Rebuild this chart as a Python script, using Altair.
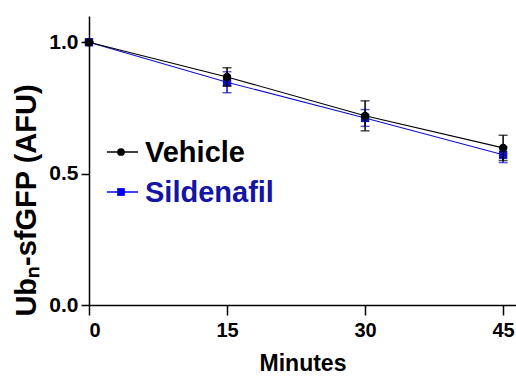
import altair as alt
import pandas as pd

minutes = [0, 15, 30, 45]
vehicle_mean = [1.0, 0.868, 0.720, 0.598]
vehicle_sem = [0.0, 0.035, 0.057, 0.048]
sildenafil_mean = [1.0, 0.848, 0.712, 0.572]
sildenafil_sem = [0.0, 0.040, 0.032, 0.030]
series_names = ["Vehicle", "Sildenafil"]
x_ticks = [0, 15, 30, 45]
y_ticks = [0.0, 0.5, 1.0]

rows = []
for name, means, sems in [("Vehicle", vehicle_mean, vehicle_sem),
                          ("Sildenafil", sildenafil_mean, sildenafil_sem)]:
    for m, v, s in zip(minutes, means, sems):
        rows.append({"series": name, "minutes": m, "value": v,
                     "lo": v - s, "hi": v + s})
df = pd.DataFrame(rows)

FONT = "Liberation Sans"
W, H = 427, 289
xs = alt.Scale(domain=[0, 46.4], nice=False, zero=False)
ys = alt.Scale(domain=[0, 1.1], nice=False)

xenc = alt.X("minutes:Q", scale=xs,
             axis=alt.Axis(values=x_ticks, title="Minutes", grid=False,
                           domainColor="black", domainWidth=1.5,
                           tickColor="black", tickWidth=1.5, tickSize=10,
                           labelFont=FONT, labelFontSize=20, labelFontWeight="bold",
                           labelColor="black", labelPadding=5,
                           titleFont=FONT, titleFontSize=23, titleFontWeight="bold",
                           titleColor="black", titlePadding=12))
yenc = alt.Y("value:Q", scale=ys,
             axis=alt.Axis(values=y_ticks, format=".1f", grid=False,
                           title="Ubₙ-sfGFP (AFU)",
                           domainColor="black", domainWidth=1.5,
                           tickColor="black", tickWidth=1.5, tickSize=8,
                           labelFont=FONT, labelFontSize=21, labelFontWeight="bold",
                           labelColor="black", labelPadding=3,
                           titleFont=FONT, titleFontSize=29, titleFontWeight="bold",
                           titleColor="black", titleAngle=-90, titleAlign="center",
                           titleBaseline="alphabetic", titleX=-54, titleY=184))

base = alt.Chart(df)

sild = base.transform_filter(alt.datum.series == "Sildenafil")
veh = base.transform_filter(alt.datum.series == "Vehicle")

def layer_for(src, col, shape, size):
    line = src.mark_line(color=col, strokeWidth=1.1).encode(x=xenc, y=yenc)
    bar = src.mark_rule(color=col, strokeWidth=1.5).encode(
        x="minutes:Q", y="lo:Q", y2="hi:Q")
    cap_lo = src.mark_tick(color=col, thickness=1.5, size=9, orient="horizontal").encode(
        x="minutes:Q", y="lo:Q")
    cap_hi = src.mark_tick(color=col, thickness=1.5, size=9, orient="horizontal").encode(
        x="minutes:Q", y="hi:Q")
    pts = src.mark_point(shape=shape, filled=True, size=size, color=col, opacity=1).encode(
        x="minutes:Q", y="value:Q")
    return [line, bar, cap_lo, cap_hi, pts]

layers = layer_for(sild, "#1010c8", "square", 70) + layer_for(veh, "black", "circle", 70)

# legend
leg_data = pd.DataFrame({"series": series_names})
def leg(name, col, tcol, shape, ypix):
    d = alt.Chart(leg_data).transform_filter(alt.datum.series == name)
    r = d.mark_rule(color=col, strokeWidth=1.5).encode(
        x=alt.value(18), x2=alt.value(49), y=alt.value(ypix))
    p = d.mark_point(shape=shape, filled=True, size=60, color=col, opacity=1).encode(
        x=alt.value(32), y=alt.value(ypix))
    t = d.mark_text(align="left", baseline="middle", font=FONT, fontSize=29,
                    fontWeight="bold", color=tcol).encode(
        x=alt.value(56), y=alt.value(ypix + 1), text="series:N")
    return [r, p, t]

layers += leg("Vehicle", "black", "black", "circle", 136)
layers += leg("Sildenafil", "#0000ff", "#1414a6", "square", 176)

chart = alt.layer(*layers).properties(
    width=W, height=H,
    autosize=alt.AutoSizeParams(type="none"),
    padding={"left": 89, "top": 16, "right": 0, "bottom": 75},
    background="white",
).configure_view(stroke=None)

chart.save("out.html", embed_options={"renderer": "svg", "actions": False})
